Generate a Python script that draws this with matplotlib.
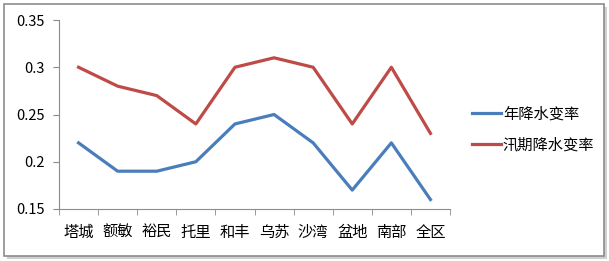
import matplotlib
matplotlib.use("Agg")
from matplotlib import pyplot as plt
from matplotlib.patches import Rectangle

plt.rcParams['font.family'] = ['Noto Sans CJK SC', 'DejaVu Sans']

categories = ["塔城", "额敏", "裕民", "托里", "和丰", "乌苏", "沙湾", "盆地", "南部", "全区"]
annual = [0.22, 0.19, 0.19, 0.20, 0.24, 0.25, 0.22, 0.17, 0.22, 0.16]
flood = [0.30, 0.28, 0.27, 0.24, 0.30, 0.31, 0.30, 0.24, 0.30, 0.23]
yticks = [0.15, 0.2, 0.25, 0.3, 0.35]
ylabels = ["0.15", "0.2", "0.25", "0.3", "0.35"]


def main():
    fig = plt.figure(figsize=(6.09, 2.61), dpi=100)

    # outer frame with a slight shadow
    fig.patches.append(Rectangle((7 / 609, 2 / 261), 600 / 609, 252 / 261, transform=fig.transFigure,
                                 facecolor="#d0d0d0", edgecolor="none", zorder=-2))
    fig.patches.append(Rectangle((4 / 609, 5 / 261), 600 / 609, 252 / 261, transform=fig.transFigure,
                                 facecolor="white", edgecolor="#8c8c8c", lw=1.2, zorder=-1))

    ax = fig.add_axes([59 / 609, 1 - 209 / 261, (450 - 59) / 609, (209 - 20) / 261])
    ax.set_facecolor("none")
    x = list(range(len(categories)))
    ax.plot(x, annual, color="#4A7EBB", lw=2.3, label="年降水变率")
    ax.plot(x, flood, color="#BE4B48", lw=2.3, label="汛期降水变率")

    ax.set_xlim(-0.5, len(categories) - 0.5)
    ax.set_ylim(0.15, 0.35)
    ax.set_yticks(yticks)
    ax.set_yticklabels(ylabels, fontsize=10.5)
    ax.set_xticks(x)
    ax.set_xticklabels(categories, fontsize=11)
    ax.set_xticks([i - 0.5 for i in range(len(categories) + 1)], minor=True)
    ax.tick_params(axis="x", which="major", length=0, pad=11)
    ax.tick_params(axis="x", which="minor", length=4, color="#8c8c8c", direction="out")
    ax.tick_params(axis="y", length=4, color="#8c8c8c", pad=6)
    for side in ["top", "right"]:
        ax.spines[side].set_visible(False)
    for side in ["left", "bottom"]:
        ax.spines[side].set_color("#8c8c8c")

    ax.legend(loc="center left", bbox_to_anchor=(1.02, 0.42), frameon=False,
              fontsize=11, handlelength=1.9, handletextpad=0.15, labelspacing=0.9)

    fig.savefig("out.png", dpi=100)
    plt.close(fig)


if __name__ == "__main__":
    main()
